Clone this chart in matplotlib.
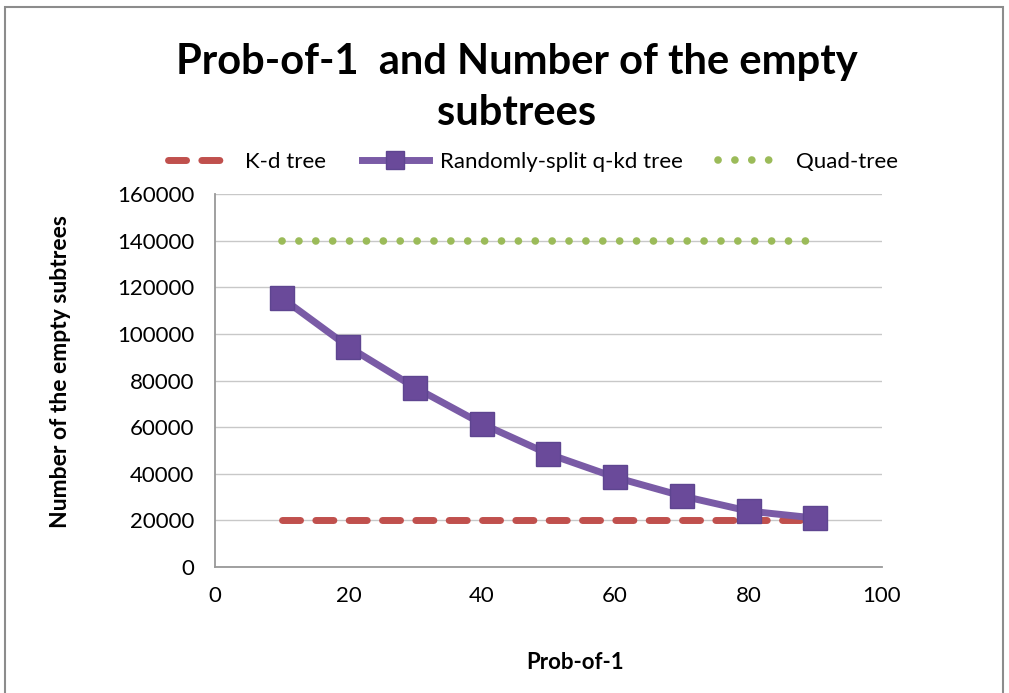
import matplotlib.pyplot as plt
from matplotlib.patches import Rectangle

plt.rcParams['font.family'] = ['Lato', 'DejaVu Sans']

# data
prob = [10, 20, 30, 40, 50, 60, 70, 80, 90]
kd_tree = [20000, 20000, 20000, 20000, 20000, 20000, 20000, 20000, 20000]
rs_qkd_tree = [115500, 94500, 77000, 61500, 48500, 38500, 30500, 24000, 21000]
quad_tree = [140000, 140000, 140000, 140000, 140000, 140000, 140000, 140000, 140000]

fig = plt.figure(figsize=(10.09, 6.93), dpi=100)
ax = fig.add_axes([0.2131, 0.1818, 0.661, 0.538])

# outer chart frame
fig.patches.append(Rectangle((0.005, -0.01), 0.989, 1.0, transform=fig.transFigure,
                             fill=False, edgecolor='#8c8c8c', linewidth=1.5))

ax.plot(prob, kd_tree, color='#c0504d', linewidth=5, linestyle=(0, (2.6, 2.2)),
        dash_capstyle='round', label='K-d tree', zorder=2)
ax.plot(prob, rs_qkd_tree, color='#7a5ba6', linewidth=5, marker='s', markersize=17,
        markerfacecolor='#6a4a9a', markeredgecolor='#5e4590', markeredgewidth=1,
        label='Randomly-split q-kd tree', zorder=3)
ax.plot(prob, quad_tree, color='#9bbb59', linewidth=5.5, linestyle=(0, (0.01, 2.2)),
        dash_capstyle='round', label='Quad-tree', zorder=2)

ax.set_xlim(0, 100)
ax.set_ylim(0, 160000)
ax.set_xticks(range(0, 101, 20))
ax.set_yticks(range(0, 160001, 20000))
ax.tick_params(axis='y', labelsize=16, length=0, pad=15)
ax.tick_params(axis='x', labelsize=16, length=0, pad=14)
ax.grid(axis='y', color='#c8c8c8', linewidth=1)
ax.set_axisbelow(True)
for s in ['top', 'right']:
    ax.spines[s].set_visible(False)
ax.spines['left'].set_color('#999999')
ax.spines['bottom'].set_color('#999999')
ax.spines['left'].set_linewidth(1.3)
ax.spines['bottom'].set_linewidth(1.3)

ax.set_xlabel('Prob-of-1', fontsize=16, fontweight='bold', va='center')
ax.xaxis.set_label_coords(0.54, -0.257)
ax.set_ylabel('Number of the empty subtrees', fontsize=16.5, fontweight='bold', va='center')
ax.yaxis.set_label_coords(-0.232, 0.525)

fig.text(0.512, 0.874, 'Prob-of-1  and Number of the empty\nsubtrees', ha='center', va='center',
         fontsize=30, fontweight='bold', linespacing=1.42)

fig.legend(loc='center', bbox_to_anchor=(0.528, 0.766), ncol=3, frameon=False, fontsize=16,
           handlelength=3.0, columnspacing=1.6, handletextpad=0.5, markerscale=0.75)

fig.savefig('out.png', dpi=100)
